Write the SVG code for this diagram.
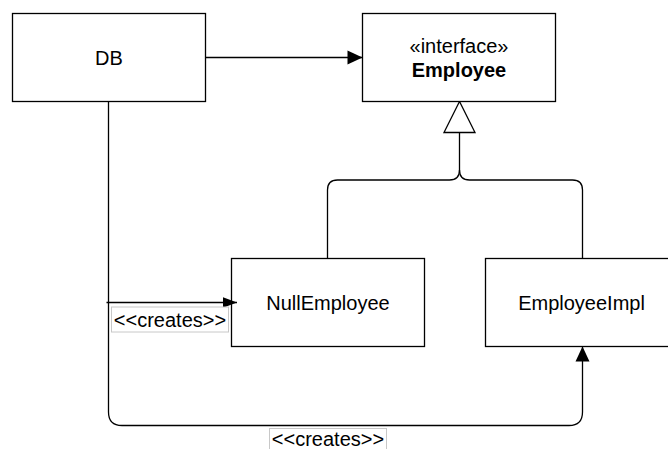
<svg xmlns="http://www.w3.org/2000/svg" width="668" height="449" viewBox="0 0 668 449">
<style>
.box{fill:#fff;stroke:#000;stroke-width:1.3}
.t{font-family:"Liberation Sans",Arial,Helvetica,sans-serif;font-size:20px;fill:#000;text-anchor:middle}
.b{font-weight:bold}
.ln{fill:none;stroke:#000;stroke-width:1.3}
.lbl{fill:#fff;stroke:#c8c8c8;stroke-width:1}
</style>
<defs>
<marker id="arr" markerUnits="userSpaceOnUse" markerWidth="15" markerHeight="15" refX="15" refY="7" orient="auto" overflow="visible">
<path d="M0,0 L15,7 L0,14 Z" fill="#000"/>
</marker>
<marker id="arrs" markerUnits="userSpaceOnUse" markerWidth="14" markerHeight="11" refX="14" refY="5.25" orient="auto" overflow="visible">
<path d="M0,0 L14,5.25 L0,10.5 Z" fill="#000"/>
</marker>
</defs>
<g id="connectors">
<path class="ln" d="M205.5 57.5 L362.5 57.5" marker-end="url(#arr)"/>
<path class="ln" d="M459.5 132.5 L459.5 170 Q459.5 180 449.5 180 L337.5 180 Q327.5 180 327.5 190 L327.5 258.5"/>
<path class="ln" d="M459.5 170 Q459.5 180 469.5 180 L572.5 180 Q582.5 180 582.5 190 L582.5 258.5"/>
<polygon points="459.5,101.5 444,132.5 475,132.5" fill="#fff" stroke="#000" stroke-width="1.3"/>
<path class="ln" d="M108.5 101.5 L108.5 412 Q108.5 425.5 122 425.5 L569 425.5 Q582.5 425.5 582.5 412 L582.5 346.5" marker-end="url(#arr)"/>
</g>
<g id="db">
<rect class="box" x="12.5" y="13.5" width="193" height="88"/>
<text class="t" x="109" y="65">DB</text>
</g>
<g id="employee">
<rect class="box" x="362.5" y="13.5" width="193" height="88"/>
<text class="t" x="459" y="52.5">«interface»</text>
<text class="t b" x="459" y="76.5">Employee</text>
</g>
<g id="nullemployee">
<rect class="box" x="231.5" y="258.5" width="193" height="88"/>
<text class="t" x="328" y="309.5">NullEmployee</text>
</g>
<g id="employeeimpl">
<rect class="box" x="485.5" y="258.5" width="193" height="88"/>
<text class="t" x="581.5" y="309.5">EmployeeImpl</text>
</g>
<g id="creates-labels">
<path class="ln" d="M106.5 302.5 L237 302.5" marker-end="url(#arrs)"/>
<rect class="lbl" x="111.5" y="307" width="117" height="25"/>
<text class="t" x="170" y="326.5">&lt;&lt;creates&gt;&gt;</text>
<rect class="lbl" x="269.5" y="428.5" width="117" height="25"/>
<text class="t" x="328" y="446">&lt;&lt;creates&gt;&gt;</text>
</g>
</svg>
